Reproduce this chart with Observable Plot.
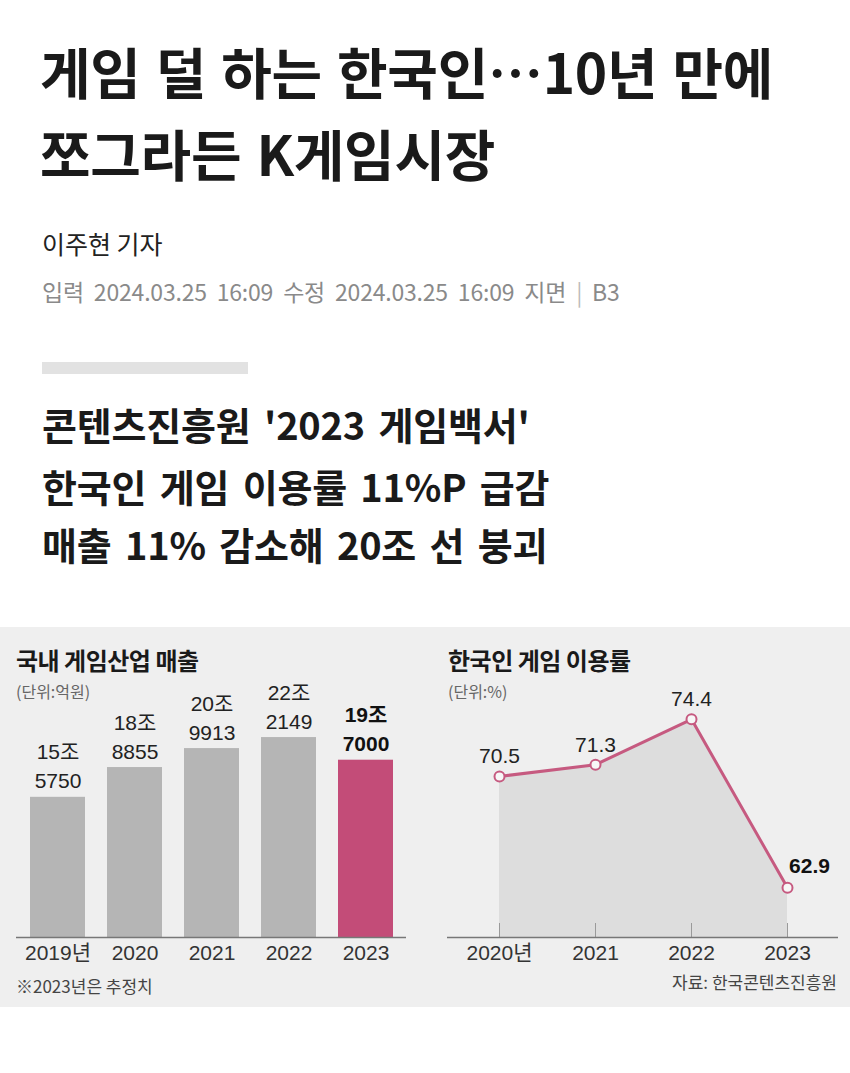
<!DOCTYPE html>
<html>
<head>
<meta charset="utf-8">
<script src="https://cdn.jsdelivr.net/npm/d3@7"></script>
<script src="https://cdn.jsdelivr.net/npm/@observablehq/plot@0.6"></script>
<style>
  html, body { margin: 0; padding: 0; background: #fff; }
  #page { position: relative; width: 850px; height: 1073px; overflow: hidden; font-family: "Noto Sans CJK KR", "Noto Sans", sans-serif; }
  .abs { position: absolute; white-space: nowrap; }
  .head { font-size: 55px; line-height: 68px; font-weight: 700; color: #1a1a1a; left: 40px; word-spacing: 3px; letter-spacing: -0.3px; }
  .byline { font-size: 25px; line-height: 32px; color: #222; left: 42px; }
  .meta { font-size: 23px; line-height: 30px; color: #8a8a8a; left: 42px; word-spacing: 5px; letter-spacing: -0.2px; }
  .sub { font-size: 38px; line-height: 48px; font-weight: 700; color: #1a1a1a; left: 42px; word-spacing: 5px; letter-spacing: -0.2px; }
  #panel { position: absolute; left: 0; top: 627px; width: 850px; height: 380px; background: #efefef; }
  .ctitle { font-size: 24px; line-height: 28px; font-weight: 700; color: #1a1a1a; letter-spacing: -0.5px; }
  .cunit { font-size: 16px; line-height: 20px; color: #666; }
  .cnote { font-size: 17px; line-height: 22px; color: #444; }
  .chart { position: absolute; top: 660px; }
</style>
</head>
<body>
<div id="page">
  <div class="abs head" style="top:36px">게임 덜 하는 한국인…10년 만에</div>
  <div class="abs head" style="top:118px">쪼그라든 K게임시장</div>
  <div class="abs byline" style="top:227px">이주현 기자</div>
  <div class="abs meta" style="top:276px">입력 2024.03.25 16:09 수정 2024.03.25 16:09 지면 <span style="color:#bbb">|</span> B3</div>
  <div class="abs" style="left:42px;top:362px;width:206px;height:12px;background:#e2e2e2"></div>
  <div class="abs sub" style="top:400px">콘텐츠진흥원 '2023 게임백서'</div>
  <div class="abs sub" style="top:462px">한국인 게임 이용률 11%P 급감</div>
  <div class="abs sub" style="top:520px">매출 11% 감소해 20조 선 붕괴</div>

  <div id="panel"></div>
  <div class="abs ctitle" style="left:16px;top:646px">국내 게임산업 매출</div>
  <div class="abs cunit" style="left:16px;top:681px">(단위:억원)</div>
  <div class="abs ctitle" style="left:448px;top:646px">한국인 게임 이용률</div>
  <div class="abs cunit" style="left:448px;top:681px">(단위:%)</div>
  <div id="left" class="chart" style="left:0"></div>
  <div id="right" class="chart" style="left:425px"></div>
  <div class="abs cnote" style="left:16px;top:975px">※2023년은 추정치</div>
  <div class="abs cnote" style="right:13px;top:971px">자료: 한국콘텐츠진흥원</div>
</div>
<script>
// ---- Data: 국내 게임산업 매출 (억원) ----
const revenueYears = ["2019", "2020", "2021", "2022", "2023"];
const revenueValues = [155750, 188855, 209913, 222149, 197000];
const revenueTickLabels = ["2019년", "2020", "2021", "2022", "2023"];

// ---- Data: 한국인 게임 이용률 (%) ----
const usageYears = ["2020", "2021", "2022", "2023"];
const usageValues = [70.5, 71.3, 74.4, 62.9];
const usageTickLabels = ["2020년", "2021", "2022", "2023"];

const GREY = "#b5b5b5";
const PINK = "#c34c78";
const LINE = "#c65a80";
const numFont = "'Liberation Sans', 'Noto Sans CJK KR', sans-serif";

const revenue = revenueYears.map((y, i) => ({
  year: y,
  value: revenueValues[i],
  label: `${Math.floor(revenueValues[i] / 10000)}조\n${revenueValues[i] % 10000}`,
  last: i === revenueYears.length - 1
}));

const usage = usageYears.map((y, i) => ({
  year: y,
  value: usageValues[i],
  label: usageValues[i].toFixed(1),
  last: i === usageYears.length - 1
}));

const yBase = 59.5;

const left = Plot.plot({
  width: 425,
  height: 305,
  marginTop: 52,
  marginBottom: 28,
  marginLeft: 7,
  marginRight: 10,
  style: { background: "transparent", fontFamily: numFont, color: "#333", overflow: "visible" },
  x: { domain: revenueYears, padding: 0.29, label: null },
  y: { domain: [0, 250000], axis: null },
  marks: [
    Plot.barY(revenue, { x: "year", y: "value", fill: d => d.last ? PINK : GREY }),
    Plot.ruleY([0], { stroke: "#777", strokeWidth: 1.5, insetLeft: 9, insetRight: 9 }),
    Plot.text(revenue.filter(d => !d.last), {
      x: "year", y: "value", text: "label", lineAnchor: "bottom", lineHeight: 1.38,
      dy: -9, fontSize: 21, fill: "#222"
    }),
    Plot.text(revenue.filter(d => d.last), {
      x: "year", y: "value", text: "label", lineAnchor: "bottom", lineHeight: 1.38,
      dy: -9, fontSize: 21, fontWeight: "bold", fill: "#111"
    }),
    Plot.axisX({
      tickSize: 0, tickPadding: 8, fontSize: 21, label: null,
      tickFormat: (d) => revenueTickLabels[revenueYears.indexOf(d)]
    })
  ]
});
document.getElementById("left").appendChild(left);

const right = Plot.plot({
  width: 425,
  height: 305,
  marginTop: 50,
  marginBottom: 28,
  marginLeft: 22,
  marginRight: 12,
  style: { background: "transparent", fontFamily: numFont, color: "#333", overflow: "visible" },
  x: { type: "point", domain: usageYears, padding: 0.53, label: null },
  y: { domain: [yBase, 75], axis: null },
  marks: [
    Plot.areaY(usage, { x: "year", y1: yBase, y2: "value", fill: "#dddddd" }),
    Plot.ruleX(usage, { x: "year", y1: yBase, y2: yBase, insetTop: -14, stroke: "#9a9a9a", strokeWidth: 1 }),
    Plot.ruleY([yBase], { stroke: "#777", strokeWidth: 1.5 }),
    Plot.line(usage, { x: "year", y: "value", stroke: LINE, strokeWidth: 3 }),
    Plot.dot(usage, { x: "year", y: "value", r: 5, fill: "#f7f7f7", stroke: LINE, strokeWidth: 2 }),
    Plot.text(usage.filter(d => !d.last), {
      x: "year", y: "value", text: "label", lineAnchor: "bottom", dy: -13, fontSize: 21, fill: "#222"
    }),
    Plot.text(usage.filter(d => d.last), {
      x: "year", y: "value", text: "label", lineAnchor: "bottom", dy: -15, dx: 22,
      fontSize: 21, fontWeight: "bold", fill: "#111"
    }),
    Plot.axisX({
      tickSize: 0, tickPadding: 8, fontSize: 21, label: null,
      tickFormat: (d) => usageTickLabels[usageYears.indexOf(d)]
    })
  ]
});
document.getElementById("right").appendChild(right);
</script>
</body>
</html>
